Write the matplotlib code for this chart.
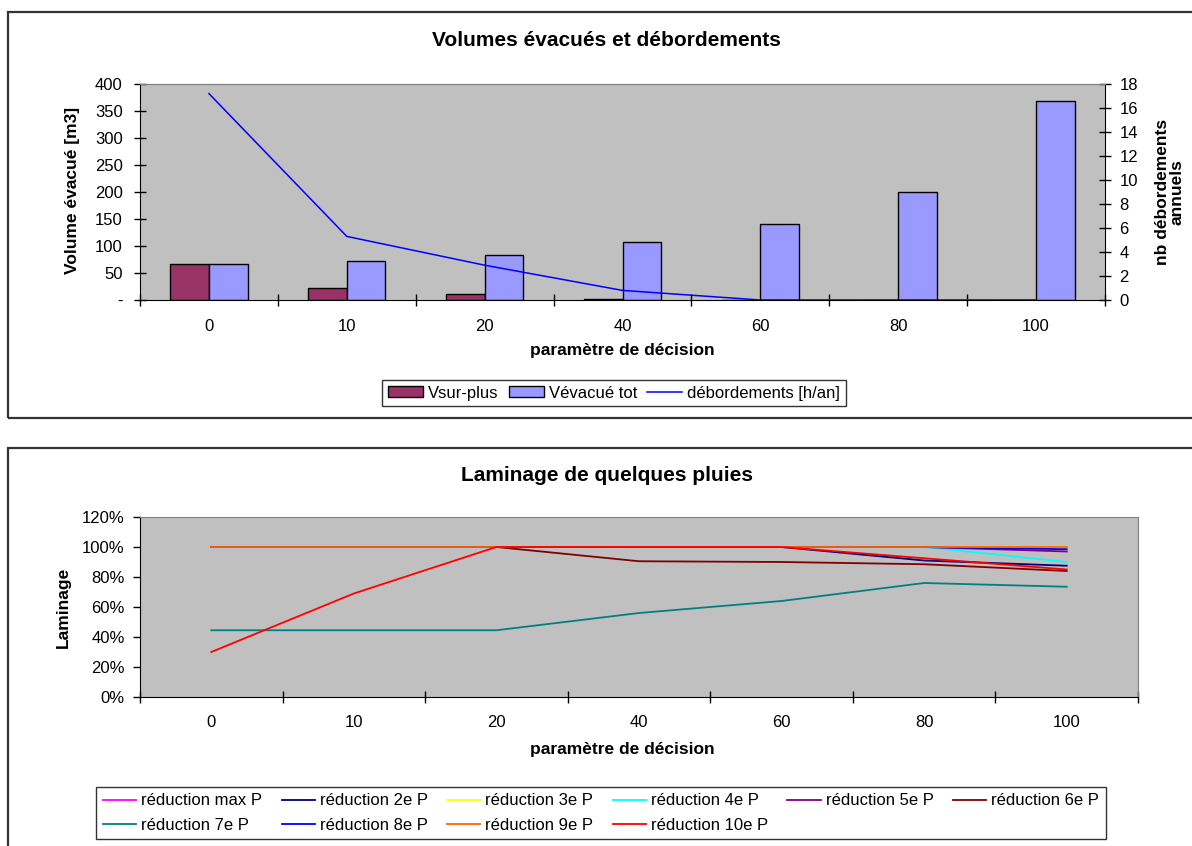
import matplotlib
matplotlib.use("Agg")
import matplotlib.pyplot as plt
import numpy as np
from matplotlib.patches import Rectangle
from matplotlib.ticker import FuncFormatter

plt.rcParams['font.family'] = ['Liberation Sans', 'DejaVu Sans']

# ---------------- data ----------------
categories = ["0", "10", "20", "40", "60", "80", "100"]
v_surplus = [67, 22, 11, 2, 0, 0, 0]
v_evacue = [67, 72, 83, 107, 141, 200, 368]
debordements = [17.2, 5.3, 2.9, 0.8, 0, 0, 0]

series_names = ["réduction max P", "réduction 2e P", "réduction 3e P", "réduction 4e P",
                "réduction 5e P", "réduction 6e P", "réduction 7e P", "réduction 8e P",
                "réduction 9e P", "réduction 10e P"]
red_max = [1.00, 1.00, 1.00, 1.00, 1.00, 1.00, 1.00]
red_2 = [1.00, 1.00, 1.00, 1.00, 1.00, 0.91, 0.875]
red_3 = [1.00, 1.00, 1.00, 1.00, 1.00, 1.00, 1.00]
red_4 = [1.00, 1.00, 1.00, 1.00, 1.00, 1.00, 0.90]
red_5 = [1.00, 1.00, 1.00, 1.00, 1.00, 1.00, 0.97]
red_6 = [1.00, 1.00, 1.00, 0.905, 0.90, 0.885, 0.84]
red_7 = [0.445, 0.445, 0.445, 0.56, 0.64, 0.76, 0.735]
red_8 = [1.00, 1.00, 1.00, 1.00, 1.00, 1.00, 0.985]
red_9 = [1.00, 1.00, 1.00, 1.00, 1.00, 1.00, 1.00]
red_10 = [0.30, 0.69, 1.00, 1.00, 1.00, 0.925, 0.85]
series_values = [red_max, red_2, red_3, red_4, red_5, red_6, red_7, red_8, red_9, red_10]
series_colors = ["#FF00FF", "#000080", "#FFFF00", "#00FFFF", "#800080",
                 "#800000", "#008080", "#0000FF", "#FF6600", "#FF0000"]

W, H = 1192, 846
fig = plt.figure(figsize=(W / 100, H / 100), dpi=100)


def fx(px):
    return px / W


def fy(py):
    return 1 - py / H


# chart borders
fig.add_artist(Rectangle((fx(8), fy(418)), fx(1250 - 8), 406 / H, transform=fig.transFigure,
                         fill=False, edgecolor="#333333", lw=1.6))
fig.add_artist(Rectangle((fx(8), fy(900)), fx(1250 - 8), (900 - 448) / H, transform=fig.transFigure,
                         fill=False, edgecolor="#333333", lw=1.6))

GRAY = "#C0C0C0"
n = len(categories)
x = np.arange(n)
bounds = np.arange(n + 1) - 0.5

# ---------------- top chart ----------------
ax1 = fig.add_axes([fx(140), fy(300), fx(965), 216 / H])
ax1.set_facecolor(GRAY)
bw = 0.28
b1 = ax1.bar(x - bw / 2, v_surplus, bw, color="#993366", edgecolor="black", lw=1, label="Vsur-plus")
b2 = ax1.bar(x + bw / 2, v_evacue, bw, color="#9999FF", edgecolor="black", lw=1, label="Vévacué tot")
ax1.set_xlim(-0.5, n - 0.5)
ax1.set_ylim(0, 400)
ax1.set_yticks(np.arange(0, 401, 50))
ax1.yaxis.set_major_formatter(FuncFormatter(lambda v, p: "-" if v == 0 else f"{int(v)}"))
ax1.set_xticks(bounds)
ax1.set_xticklabels([])
ax1.set_xticks(x, minor=True)
ax1.set_xticklabels(categories, minor=True)
ax1.tick_params(axis="x", which="major", direction="inout", length=8, width=1)
ax1.tick_params(axis="x", which="minor", length=0, pad=14, labelsize=12)
ax1.tick_params(axis="y", direction="inout", length=9, width=1, labelsize=12, pad=8)
ax1.spines["top"].set_color("#808080")
ax1.spines["right"].set_visible(False)

ax2 = ax1.twinx()
l1, = ax2.plot(x, debordements, color="#0000FF", lw=1.1, label="débordements [h/an]")
ax2.set_ylim(0, 18)
ax2.set_yticks(np.arange(0, 19, 2))
ax2.tick_params(axis="y", direction="inout", length=9, width=1, labelsize=12, pad=6)
ax2.spines["top"].set_color("#808080")
ax2.spines["left"].set_visible(False)
ax2.spines["bottom"].set_visible(False)

fig.text(fx(606), fy(40), "Volumes évacués et débordements", ha="center", va="center",
         fontsize=15, fontweight="bold")
fig.text(fx(72), fy(190), "Volume évacué [m3]", ha="center", va="center", rotation=90,
         fontsize=12.5, fontweight="bold")
fig.text(fx(1170), fy(192), "nb débordements\nannuels", ha="center", va="center", rotation=90,
         fontsize=12.5, fontweight="bold", linespacing=1.0)
fig.text(fx(622), fy(350), "paramètre de décision", ha="center", va="center",
         fontsize=12.5, fontweight="bold")

leg1 = fig.legend(handles=[b1, b2, l1], loc="center", bbox_to_anchor=(fx(614), fy(393)),
                  ncol=3, fontsize=12, frameon=True, fancybox=False, edgecolor="black",
                  handlelength=2.1, handleheight=0.6, handletextpad=0.3, columnspacing=0.6,
                  borderpad=0.35, borderaxespad=0)
leg1.get_frame().set_linewidth(1)

# ---------------- bottom chart ----------------
ax3 = fig.add_axes([fx(140), fy(697), fx(998), 180 / H])
ax3.set_facecolor(GRAY)
handles = []
for name, vals, col in zip(series_names, series_values, series_colors):
    h, = ax3.plot(x, vals, color=col, lw=1.3, label=name)
    handles.append(h)
ax3.set_xlim(-0.5, n - 0.5)
ax3.set_ylim(0, 1.2)
ax3.set_yticks(np.arange(0, 1.21, 0.2))
ax3.yaxis.set_major_formatter(FuncFormatter(lambda v, p: f"{int(round(v * 100))}%"))
ax3.set_xticks(bounds)
ax3.set_xticklabels([])
ax3.set_xticks(x, minor=True)
ax3.set_xticklabels(categories, minor=True)
ax3.tick_params(axis="x", which="major", direction="inout", length=8, width=1)
ax3.tick_params(axis="x", which="minor", length=0, pad=13, labelsize=12)
ax3.tick_params(axis="y", direction="out", length=5, width=1, labelsize=12, pad=6)
ax3.spines["top"].set_color("#808080")
ax3.spines["right"].set_color("#808080")

fig.text(fx(607), fy(475), "Laminage de quelques pluies", ha="center", va="center",
         fontsize=15, fontweight="bold")
fig.text(fx(63), fy(607), "Laminage", ha="center", va="center", rotation=90,
         fontsize=12.5, fontweight="bold")
fig.text(fx(622), fy(749), "paramètre de décision", ha="center", va="center",
         fontsize=12.5, fontweight="bold")

# row-major legend order (matplotlib fills column by column)
order = [0, 6, 1, 7, 2, 8, 3, 9, 4, 5]
leg2 = fig.legend(handles=[handles[i] for i in order], loc="center",
                  bbox_to_anchor=(fx(601), fy(813)),
                  ncol=6, fontsize=12, frameon=True, fancybox=False, edgecolor="black",
                  handlelength=2.0, handletextpad=0.3, columnspacing=1.15,
                  borderpad=0.4, borderaxespad=0, labelspacing=0.55)
leg2.get_frame().set_linewidth(1)

fig.savefig("out.png", dpi=100)
